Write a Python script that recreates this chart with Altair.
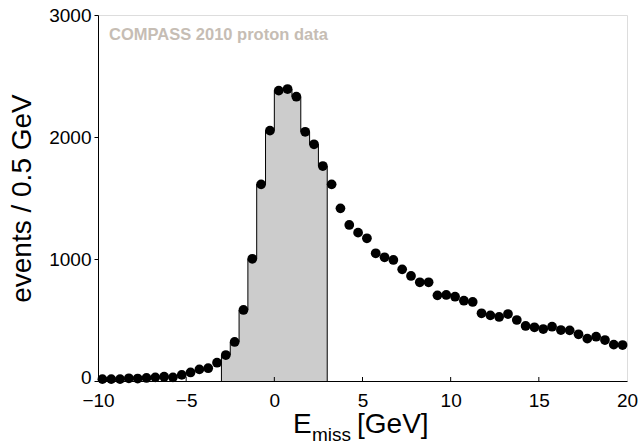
import altair as alt
import pandas as pd

# bin centres (0.5 GeV bins from -10 to 20)
centers = [-9.75 + 0.5 * i for i in range(60)]
events = [
    15, 15, 15, 22, 20, 25, 30, 35, 30, 50,
    70, 95, 105, 150, 213, 320, 582, 1002, 1612, 2052,
    2380, 2393, 2330, 2043, 1940, 1762, 1612, 1415, 1279, 1216,
    1170, 1047, 1014, 992, 915, 861, 809, 809, 702, 705,
    691, 658, 648, 555, 538, 525, 549, 500, 451, 440,
    426, 445, 418, 415, 383, 347, 363, 336, 298, 295,
]
x_ticks = [-10, -5, 0, 5, 10, 15, 20]
y_ticks = [0, 1000, 2000, 3000]
x_inner_ticks = [-5, 0, 5, 10, 15]
sel_lo, sel_hi = -3.0, 3.0
label_text = "COMPASS 2010 proton data"

W, H = 529, 366
FONT = "Liberation Sans"

pts = pd.DataFrame({"x": centers, "y": events})

# step histogram for the selected window
hist = [(c, v) for c, v in zip(centers, events) if sel_lo < c < sel_hi]
edges = [c - 0.25 for c, _ in hist]
hv = [v for _, v in hist]
area_df = pd.DataFrame({"x": edges + [sel_hi], "y": hv + [hv[-1]]})
line_x = [sel_lo] + edges + [sel_hi, sel_hi]
line_y = [0] + hv + [hv[-1], 0]
line_df = pd.DataFrame({"x": line_x, "y": line_y, "i": list(range(len(line_x)))})

xs = alt.Scale(domain=[-10, 20], nice=False, zero=False)
ys = alt.Scale(domain=[0, 3000], nice=False)

x_axis = alt.Axis(values=x_ticks, tickSize=0, labelFontSize=19, labelPadding=10,
                  title=None, grid=False, labelFont=FONT, labelColor="black",
                  domainColor="black", labelFlush=False, labelOverlap=False, format="d")
y_axis = alt.Axis(values=y_ticks, tickSize=4, tickColor="black", labelFontSize=19,
                  labelPadding=3, grid=False, labelFont=FONT, labelColor="black",
                  domainColor="black", title="events / 0.5 GeV", titleFontSize=28,
                  titleFont=FONT, titleFontWeight="normal", titleColor="black",
                  titlePadding=12, labelFlush=False, labelOverlap=False, format="d",
                  labelOffset=alt.ExprRef(expr="datum.value == 0 ? -4 : 0"))

area = alt.Chart(area_df).mark_area(interpolate="step-after", color="#cccccc", opacity=1).encode(
    x=alt.X("x:Q", scale=xs, axis=x_axis),
    y=alt.Y("y:Q", scale=ys, axis=y_axis),
)
outline = alt.Chart(line_df).mark_line(interpolate="step-after", color="black", strokeWidth=1).encode(
    x=alt.X("x:Q", scale=xs),
    y=alt.Y("y:Q", scale=ys),
    order="i:Q",
)
dots = alt.Chart(pts).mark_circle(size=95, color="black", opacity=1).encode(
    x=alt.X("x:Q", scale=xs),
    y=alt.Y("y:Q", scale=ys),
)
ticks = alt.Chart(pd.DataFrame({"x": x_inner_ticks})).mark_rule(color="black", strokeWidth=1).encode(
    x=alt.X("x:Q", scale=xs),
    y=alt.value(H - 4),
    y2=alt.value(H),
)
label = alt.Chart(pd.DataFrame({"t": [label_text]})).mark_text(
    align="left", baseline="middle", font=FONT, fontSize=16.5, fontWeight="bold", color="#c6bdb4"
).encode(text="t:N", x=alt.value(11), y=alt.value(20))

t_e = alt.Chart(pd.DataFrame({"t": ["E"]})).mark_text(
    align="left", baseline="alphabetic", font=FONT, fontSize=28, color="black"
).encode(text="t:N", x=alt.value(195), y=alt.value(418))
t_sub = alt.Chart(pd.DataFrame({"t": ["miss"]})).mark_text(
    align="left", baseline="alphabetic", font=FONT, fontSize=19, color="black"
).encode(text="t:N", x=alt.value(214), y=alt.value(426))
t_unit = alt.Chart(pd.DataFrame({"t": ["[GeV]"]})).mark_text(
    align="left", baseline="alphabetic", font=FONT, fontSize=28, color="black"
).encode(text="t:N", x=alt.value(259), y=alt.value(418))

chart = alt.layer(area, outline, dots, ticks, label, t_e, t_sub, t_unit).properties(
    width=W, height=H,
    autosize=alt.AutoSizeParams(type="none"),
    padding={"left": 98, "top": 15, "right": 13, "bottom": 64},
).configure_view(stroke="black", strokeWidth=1).configure(background="white")

chart.save("out.html", embed_options={"renderer": "svg", "actions": False})
